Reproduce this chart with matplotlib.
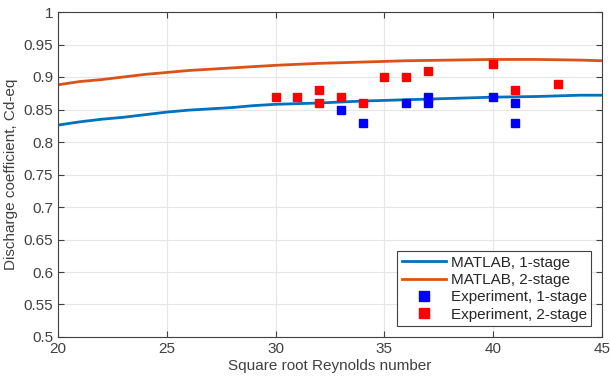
import matplotlib
matplotlib.use('Agg')
import matplotlib.pyplot as plt

plt.rcParams['font.family'] = ['Liberation Sans', 'DejaVu Sans']

# MATLAB model curves
sim_x = [20, 21, 22, 23, 24, 25, 26, 27, 28, 29, 30, 32, 34, 36, 38, 40, 42, 44, 45]
sim_1stage = [0.826, 0.831, 0.835, 0.838, 0.842, 0.846, 0.849, 0.851, 0.853, 0.856,
              0.858, 0.860, 0.863, 0.865, 0.867, 0.869, 0.870, 0.872, 0.872]
sim_2stage = [0.888, 0.893, 0.896, 0.900, 0.904, 0.907, 0.910, 0.912, 0.914, 0.916,
              0.918, 0.921, 0.923, 0.925, 0.926, 0.927, 0.927, 0.926, 0.925]

# experiments
exp1_x = [33, 34, 36, 37, 37, 40, 41, 41]
exp1_y = [0.85, 0.83, 0.86, 0.87, 0.86, 0.87, 0.86, 0.83]
exp2_x = [30, 31, 32, 32, 33, 34, 35, 36, 37, 40, 41, 43]
exp2_y = [0.87, 0.87, 0.88, 0.86, 0.87, 0.86, 0.90, 0.90, 0.91, 0.92, 0.88, 0.89]

txt = '#404040'

fig = plt.figure(figsize=(6.1, 3.79), dpi=100)
ax = fig.add_axes([58/610, 1 - 337/379, 544/610, 325/379])

ax.plot(sim_x, sim_1stage, color='#0072BD', lw=2, label='MATLAB, 1-stage')
ax.plot(sim_x, sim_2stage, color='#D95319', lw=2, label='MATLAB, 2-stage')
ax.plot(exp1_x, exp1_y, 's', color='#0000FF', ms=5.8, label='Experiment, 1-stage')
ax.plot(exp2_x, exp2_y, 's', color='#FF0000', ms=5.8, label='Experiment, 2-stage')

ax.set_xlim(20, 45)
ax.set_ylim(0.5, 1)
ax.set_xticks([20, 25, 30, 35, 40, 45])
ax.set_yticks([0.5, 0.55, 0.6, 0.65, 0.7, 0.75, 0.8, 0.85, 0.9, 0.95, 1])
ax.set_yticklabels(['0.5', '0.55', '0.6', '0.65', '0.7', '0.75', '0.8', '0.85', '0.9', '0.95', '1'])
ax.grid(True, color='#e6e6e6', lw=0.8)
ax.set_axisbelow(True)
ax.tick_params(direction='in', top=True, right=True, labelsize=11, colors=txt,
               length=4, width=0.8)
for s in ax.spines.values():
    s.set_color(txt)
    s.set_linewidth(0.8)

ax.set_xlabel('Square root Reynolds number', fontsize=11, color=txt, labelpad=2)
ax.set_ylabel('Discharge coefficient, Cd-eq', fontsize=11, color=txt, labelpad=4)

leg = ax.legend(loc='lower right', fontsize=11, fancybox=False, framealpha=1,
                edgecolor=txt, handlelength=2.9, handletextpad=0.3,
                borderpad=0.3, labelspacing=0.22, borderaxespad=0.7,
                markerscale=1.2)
leg.get_frame().set_linewidth(0.8)
for t in leg.get_texts():
    t.set_color('#262626')

fig.savefig('out.png', dpi=100)
